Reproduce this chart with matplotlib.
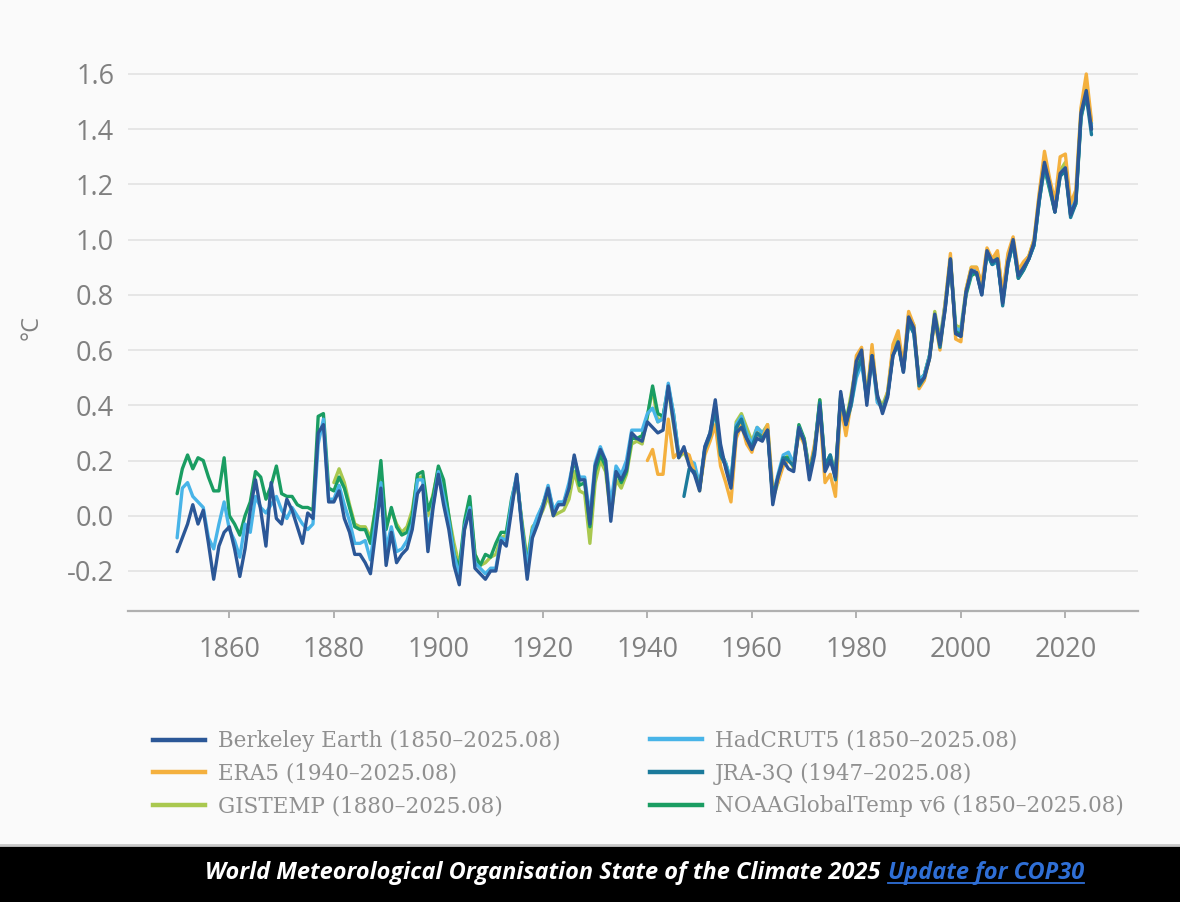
import matplotlib
matplotlib.use("Agg")
import matplotlib.pyplot as plt
from matplotlib.lines import Line2D
from matplotlib.patches import Rectangle
import numpy as np

# ---------------- data (°C above 1850-1900) ----------------
berkeley_start = 1850
berkeley = [
    -0.13, -0.08, -0.03, 0.04, -0.03, 0.02, -0.10, -0.23, -0.11, -0.06,
    -0.04, -0.12, -0.22, -0.12, 0.02, 0.13, 0.02, -0.11, 0.12, -0.01,
    -0.03, 0.06, 0.02, -0.04, -0.10, 0.01, -0.01, 0.30, 0.33, 0.05,
    0.05, 0.09, -0.01, -0.06, -0.14, -0.14, -0.17, -0.21, -0.06, 0.10,
    -0.18, -0.06, -0.17, -0.14, -0.12, -0.05, 0.08, 0.11, -0.13, 0.03,
    0.15, 0.04, -0.05, -0.18, -0.25, -0.05, 0.02, -0.19, -0.21, -0.23,
    -0.20, -0.20, -0.09, -0.11, 0.02, 0.15, -0.05, -0.23, -0.08, -0.03,
    0.03, 0.10, 0.00, 0.04, 0.04, 0.10, 0.22, 0.13, 0.13, -0.03,
    0.18, 0.24, 0.20, -0.02, 0.16, 0.13, 0.17, 0.30, 0.28, 0.27,
    0.34, 0.32, 0.30, 0.31, 0.47, 0.34, 0.21, 0.25, 0.18, 0.15,
    0.09, 0.25, 0.30, 0.42, 0.26, 0.17, 0.10, 0.30, 0.32, 0.28,
    0.24, 0.28, 0.27, 0.31, 0.04, 0.14, 0.20, 0.17, 0.16, 0.32,
    0.27, 0.13, 0.22, 0.40, 0.16, 0.20, 0.14, 0.45, 0.33, 0.42,
    0.56, 0.60, 0.40, 0.58, 0.44, 0.37, 0.43, 0.58, 0.63, 0.52,
    0.72, 0.68, 0.48, 0.50, 0.57, 0.73, 0.62, 0.75, 0.93, 0.66,
    0.65, 0.81, 0.89, 0.88, 0.80, 0.96, 0.92, 0.93, 0.77, 0.92,
    1.00, 0.87, 0.90, 0.93, 0.99, 1.15, 1.28, 1.20, 1.10, 1.24,
    1.26, 1.09, 1.14, 1.46, 1.54, 1.40,
]

hadcrut_start = 1850
hadcrut = [
    -0.08, 0.10, 0.12, 0.07, 0.05, 0.03, -0.08, -0.12, -0.03, 0.05,
    -0.05, -0.09, -0.15, -0.03, -0.06, 0.07, 0.03, 0.01, 0.04, 0.07,
    0.02, -0.01, 0.03, 0.00, -0.03, -0.05, -0.03, 0.26, 0.35, 0.06,
    0.06, 0.11, 0.04, -0.02, -0.10, -0.10, -0.09, -0.16, -0.02, 0.12,
    -0.12, -0.04, -0.13, -0.12, -0.09, -0.03, 0.13, 0.13, -0.08, 0.04,
    0.16, 0.07, -0.02, -0.14, -0.22, -0.04, 0.03, -0.17, -0.19, -0.21,
    -0.19, -0.19, -0.08, -0.09, 0.05, 0.15, -0.04, -0.19, -0.05, 0.00,
    0.04, 0.11, 0.02, 0.05, 0.05, 0.12, 0.21, 0.14, 0.14, 0.00,
    0.19, 0.25, 0.20, 0.04, 0.18, 0.15, 0.20, 0.31, 0.31, 0.31,
    0.37, 0.39, 0.34, 0.35, 0.48, 0.37, 0.22, 0.24, 0.20, 0.19,
    0.11, 0.25, 0.30, 0.40, 0.22, 0.19, 0.13, 0.33, 0.36, 0.30,
    0.26, 0.32, 0.30, 0.32, 0.07, 0.15, 0.22, 0.23, 0.19, 0.32,
    0.27, 0.16, 0.25, 0.40, 0.18, 0.22, 0.14, 0.42, 0.33, 0.40,
    0.50, 0.55, 0.42, 0.58, 0.41, 0.39, 0.44, 0.60, 0.62, 0.53,
    0.70, 0.66, 0.49, 0.51, 0.58, 0.72, 0.62, 0.77, 0.93, 0.68,
    0.67, 0.81, 0.88, 0.89, 0.82, 0.95, 0.91, 0.92, 0.78, 0.91,
    0.99, 0.87, 0.90, 0.93, 0.98, 1.14, 1.27, 1.19, 1.11, 1.24,
    1.26, 1.10, 1.15, 1.45, 1.53, 1.41,
]

noaa_start = 1850
noaa = [
    0.08, 0.17, 0.22, 0.17, 0.21, 0.20, 0.14, 0.09, 0.09, 0.21,
    0.00, -0.03, -0.07, 0.00, 0.05, 0.16, 0.14, 0.06, 0.11, 0.18,
    0.08, 0.07, 0.07, 0.04, 0.03, 0.03, 0.02, 0.36, 0.37, 0.10,
    0.09, 0.14, 0.10, 0.03, -0.04, -0.05, -0.05, -0.10, 0.03, 0.20,
    -0.05, 0.03, -0.04, -0.07, -0.06, 0.00, 0.15, 0.16, 0.02, 0.07,
    0.18, 0.13, 0.00, -0.14, -0.19, -0.02, 0.07, -0.14, -0.18, -0.14,
    -0.15, -0.10, -0.06, -0.06, 0.06, 0.14, -0.03, -0.18, -0.05, -0.01,
    0.04, 0.10, 0.02, 0.04, 0.05, 0.10, 0.21, 0.11, 0.12, -0.04,
    0.16, 0.22, 0.18, 0.02, 0.16, 0.12, 0.16, 0.28, 0.28, 0.29,
    0.36, 0.47, 0.37, 0.36, 0.47, 0.37, 0.22, 0.24, 0.20, 0.18,
    0.10, 0.24, 0.29, 0.39, 0.23, 0.19, 0.12, 0.31, 0.34, 0.29,
    0.26, 0.30, 0.29, 0.31, 0.06, 0.14, 0.21, 0.21, 0.18, 0.33,
    0.28, 0.16, 0.24, 0.42, 0.18, 0.21, 0.15, 0.44, 0.34, 0.42,
    0.53, 0.57, 0.43, 0.59, 0.42, 0.39, 0.44, 0.59, 0.62, 0.53,
    0.70, 0.67, 0.49, 0.51, 0.58, 0.71, 0.62, 0.76, 0.92, 0.67,
    0.66, 0.80, 0.87, 0.88, 0.81, 0.95, 0.91, 0.92, 0.78, 0.91,
    0.99, 0.86, 0.89, 0.93, 0.98, 1.14, 1.26, 1.18, 1.10, 1.23,
    1.25, 1.09, 1.13, 1.44, 1.53, 1.40,
]

gistemp_start = 1880
gistemp = [
    0.12, 0.17, 0.12, 0.04, -0.03, -0.04, -0.04, -0.08, 0.03, 0.16,
    -0.04, 0.02, -0.03, -0.06, -0.04, 0.02, 0.14, 0.14, 0.00, 0.08,
    0.17, 0.11, 0.00, -0.10, -0.18, -0.05, 0.05, -0.14, -0.18, -0.17,
    -0.15, -0.14, -0.08, -0.07, 0.04, 0.13, -0.02, -0.16, -0.04, -0.02,
    0.02, 0.07, 0.00, 0.01, 0.02, 0.06, 0.16, 0.09, 0.08, -0.10,
    0.12, 0.20, 0.16, 0.00, 0.13, 0.10, 0.15, 0.26, 0.27, 0.26,
    0.36, 0.46, 0.34, 0.36, 0.46, 0.33, 0.21, 0.23, 0.19, 0.17,
    0.09, 0.24, 0.30, 0.40, 0.23, 0.18, 0.11, 0.34, 0.37, 0.32,
    0.27, 0.32, 0.30, 0.33, 0.06, 0.12, 0.20, 0.22, 0.17, 0.31,
    0.28, 0.17, 0.24, 0.42, 0.18, 0.22, 0.16, 0.43, 0.34, 0.44,
    0.55, 0.60, 0.43, 0.60, 0.43, 0.40, 0.45, 0.60, 0.64, 0.54,
    0.73, 0.69, 0.48, 0.51, 0.58, 0.74, 0.64, 0.77, 0.93, 0.69,
    0.68, 0.82, 0.90, 0.90, 0.83, 0.96, 0.92, 0.95, 0.80, 0.94,
    1.00, 0.88, 0.91, 0.94, 1.00, 1.16, 1.29, 1.20, 1.12, 1.25,
    1.28, 1.11, 1.16, 1.47, 1.56, 1.42,
]

era5_start = 1940
era5 = [
    0.20, 0.24, 0.15, 0.15, 0.35, 0.21, 0.23, 0.23, 0.22, 0.16,
    0.10, 0.22, 0.27, 0.33, 0.18, 0.12, 0.05, 0.28, 0.33, 0.26,
    0.23, 0.30, 0.28, 0.33, 0.10, 0.12, 0.18, 0.20, 0.18, 0.30,
    0.26, 0.16, 0.26, 0.38, 0.12, 0.15, 0.07, 0.40, 0.29, 0.41,
    0.58, 0.61, 0.42, 0.62, 0.43, 0.38, 0.45, 0.62, 0.67, 0.54,
    0.74, 0.69, 0.46, 0.49, 0.57, 0.71, 0.60, 0.77, 0.95, 0.64,
    0.63, 0.82, 0.90, 0.90, 0.84, 0.97, 0.93, 0.96, 0.80, 0.95,
    1.01, 0.89, 0.92, 0.94, 1.00, 1.17, 1.32, 1.22, 1.14, 1.30,
    1.31, 1.13, 1.18, 1.48, 1.60, 1.43,
]

jra3q_start = 1947
jra3q = [
    0.07, 0.17, 0.16,
    0.10, 0.24, 0.29, 0.39, 0.22, 0.18, 0.11, 0.32, 0.35, 0.28,
    0.25, 0.30, 0.28, 0.31, 0.07, 0.14, 0.21, 0.20, 0.18, 0.31,
    0.27, 0.15, 0.24, 0.41, 0.18, 0.22, 0.13, 0.43, 0.33, 0.40,
    0.52, 0.57, 0.42, 0.58, 0.43, 0.38, 0.44, 0.58, 0.62, 0.52,
    0.70, 0.66, 0.47, 0.50, 0.57, 0.72, 0.61, 0.75, 0.93, 0.66,
    0.65, 0.81, 0.88, 0.88, 0.80, 0.95, 0.91, 0.93, 0.76, 0.91,
    0.99, 0.86, 0.89, 0.93, 0.98, 1.14, 1.27, 1.19, 1.10, 1.23,
    1.25, 1.08, 1.13, 1.45, 1.52, 1.38,
]

labels = {
    "berkeley": "Berkeley Earth (1850–2025.08)",
    "era5": "ERA5 (1940–2025.08)",
    "gistemp": "GISTEMP (1880–2025.08)",
    "hadcrut": "HadCRUT5 (1850–2025.08)",
    "jra3q": "JRA-3Q (1947–2025.08)",
    "noaa": "NOAAGlobalTemp v6 (1850–2025.08)",
}
colors = {
    "berkeley": "#2b5797",
    "era5": "#f4b03e",
    "gistemp": "#a9c84f",
    "hadcrut": "#48b4e8",
    "jra3q": "#1b7a9b",
    "noaa": "#1a9d62",
}
series = {
    "gistemp": (gistemp_start, gistemp),
    "noaa": (noaa_start, noaa),
    "hadcrut": (hadcrut_start, hadcrut),
    "era5": (era5_start, era5),
    "jra3q": (jra3q_start, jra3q),
    "berkeley": (berkeley_start, berkeley),
}
x_ticks = [1860, 1880, 1900, 1920, 1940, 1960, 1980, 2000, 2020]
y_ticks = [-0.2, 0.0, 0.2, 0.4, 0.6, 0.8, 1.0, 1.2, 1.4, 1.6]

# ---------------- figure ----------------
W, H = 1180, 902
bg = "#fafafa"
txt_gray = "#808080"
fig = plt.figure(figsize=(W / 100, H / 100), dpi=100, facecolor=bg)
ax = fig.add_axes([128 / W, 1 - 611 / H, (1138 - 128) / W, (611 - 32) / H])
ax.set_facecolor(bg)

for key, (start, vals) in series.items():
    yrs = np.arange(start, start + len(vals))
    ax.plot(yrs, vals, color=colors[key], lw=2.4, solid_joinstyle="round",
            solid_capstyle="round", zorder=3)

ax.set_xlim(1840.6, 2033.9)
ax.set_ylim(-0.345, 1.752)
ax.set_xticks(x_ticks)
ax.set_yticks(y_ticks)
ax.set_yticklabels([f"{v:.1f}" for v in y_ticks])
ax.grid(axis="y", color="#e4e4e4", lw=1.3, zorder=0)
for s in ["top", "right", "left"]:
    ax.spines[s].set_visible(False)
ax.spines["bottom"].set_color("#b0b0b0")
ax.spines["bottom"].set_linewidth(1.6)

ax.tick_params(axis="x", length=5, width=1.4, color="#b0b0b0", pad=13,
               labelcolor=txt_gray, labelsize=19.5)
ax.tick_params(axis="y", length=0, pad=10, labelcolor=txt_gray, labelsize=19.5)
for lab in ax.get_xticklabels() + ax.get_yticklabels():
    lab.set_fontfamily("Open Sans")

fig.text(32 / W, 1 - 327 / H, "°C", rotation=90, color=txt_gray,
         fontsize=17, family="Open Sans", ha="center", va="center")

# ---------------- legend (two columns) ----------------
def make_handles(keys):
    return [Line2D([0], [0], color=colors[k], lw=3.2) for k in keys]

leg_kw = dict(frameon=False, loc="upper left", borderpad=0, handlelength=2.42,
              handletextpad=0.6, labelspacing=0.49, borderaxespad=0,
              prop=dict(family="DejaVu Serif", size=15.5), labelcolor="#909090")
col1 = ["berkeley", "era5", "gistemp"]
col2 = ["hadcrut", "jra3q", "noaa"]
fig.legend(make_handles(col1), [labels[k] for k in col1],
           bbox_to_anchor=(153 / W, 1 - 730 / H), **leg_kw)
fig.legend(make_handles(col2), [labels[k] for k in col2],
           bbox_to_anchor=(650 / W, 1 - 730 / H), **leg_kw)

# ---------------- bottom banner ----------------
fig.add_artist(Rectangle((0, 0), 1, (H - 846) / H, transform=fig.transFigure,
                         facecolor="black", edgecolor="none", zorder=0))
fig.add_artist(Line2D([0, 1], [(H - 845) / H] * 2, transform=fig.transFigure,
                      color="#c8c8c8", lw=2))

renderer = fig.canvas.get_renderer()
base_y = 1 - 879 / H
banner_kw = dict(fontsize=16.9, style="italic", weight="bold", family="Open Sans",
                 va="baseline", ha="left")
t1 = fig.text(205 / W, base_y, "World Meteorological Organisation State of the Climate 2025",
              color="white", **banner_kw)
bb1 = t1.get_window_extent(renderer)
link_color = "#2f6fd6"
t2 = fig.text((bb1.x1 + 7) / W, base_y, "Update for COP30", color=link_color, **banner_kw)
bb2 = t2.get_window_extent(renderer)
fig.add_artist(Line2D([bb2.x0 / W, bb2.x1 / W], [1 - 883 / H] * 2,
                      transform=fig.transFigure, color=link_color, lw=1.3))

fig.savefig("out.png", dpi=100, facecolor=bg)
